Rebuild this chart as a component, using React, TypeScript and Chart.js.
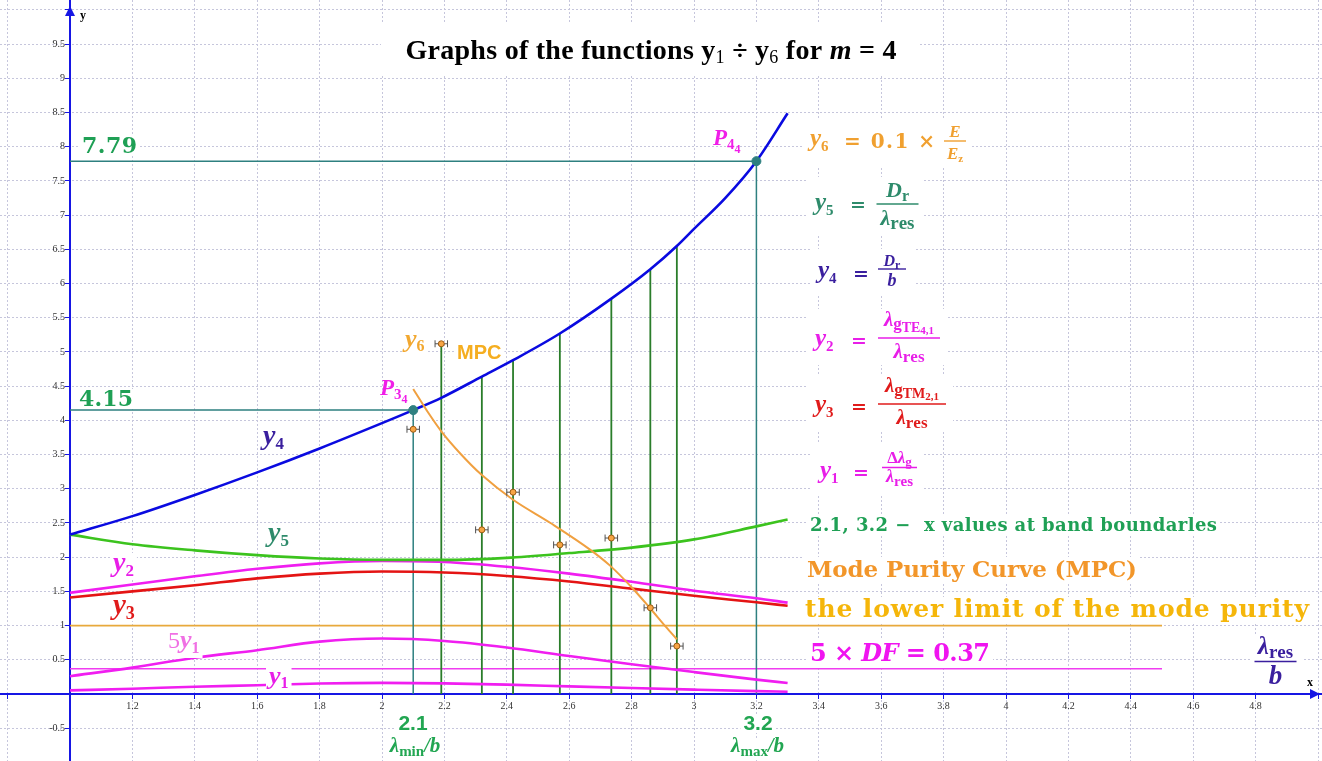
import React, { useEffect, useRef } from 'react';
import { Chart, registerables } from 'chart.js';

Chart.register(...registerables);

// ---------- axes ----------
const X_MIN = 0.7756;
const X_MAX = 5.0128;
const Y_MIN = -0.98;
const Y_MAX = 10.146;
const xTickValues = [0.8, 1.0, 1.2, 1.4, 1.6, 1.8, 2.0, 2.2, 2.4, 2.6, 2.8, 3.0, 3.2, 3.4, 3.6, 3.8, 4.0, 4.2, 4.4, 4.6, 4.8, 5.0];
const yTickValues = [-0.5, 0, 0.5, 1, 1.5, 2, 2.5, 3, 3.5, 4, 4.5, 5, 5.5, 6, 6.5, 7, 7.5, 8, 8.5, 9, 9.5, 10];
const xHiddenLabels = [0.8, 1.0, 5.0];
const yHiddenLabels = [0, 10];

// ---------- y4 = Dr / b ----------
const y4X = [1.0, 1.2, 1.4, 1.6, 1.8, 2.0, 2.1, 2.19, 2.32, 2.42, 2.57, 2.735, 2.86, 2.945, 3.0, 3.1, 3.2, 3.3];
const y4Y = [2.33, 2.6, 2.91, 3.24, 3.59, 3.96, 4.15, 4.33, 4.64, 4.88, 5.27, 5.78, 6.21, 6.55, 6.8, 7.25, 7.79, 8.49];

// ---------- y5, y2, y3, 5y1, y1 ----------
const curveX = [1.0, 1.2, 1.4, 1.6, 1.8, 2.0, 2.2, 2.4, 2.6, 2.8, 3.0, 3.2, 3.3];
const y5Y = [2.33, 2.19, 2.1, 2.03, 1.98, 1.96, 1.96, 1.99, 2.06, 2.14, 2.26, 2.45, 2.55];
const y2Y = [1.48, 1.6, 1.72, 1.83, 1.91, 1.945, 1.93, 1.86, 1.76, 1.64, 1.51, 1.4, 1.335];
const y3Y = [1.41, 1.5, 1.59, 1.69, 1.76, 1.79, 1.775, 1.725, 1.645, 1.54, 1.435, 1.34, 1.29];
const y1Times5Y = [0.26, 0.385, 0.53, 0.64, 0.765, 0.81, 0.775, 0.68, 0.555, 0.435, 0.32, 0.21, 0.16];
const y1Y = [0.052, 0.077, 0.106, 0.128, 0.153, 0.162, 0.155, 0.136, 0.111, 0.087, 0.064, 0.042, 0.032];

// ---------- Mode Purity Curve (y6) ----------
const mpcX = [2.1, 2.15, 2.19, 2.25, 2.32, 2.42, 2.54, 2.67, 2.73, 2.8, 2.86, 2.91, 2.945];
const mpcY = [4.46, 4.1, 3.84, 3.52, 3.2, 2.84, 2.5, 2.1, 1.88, 1.56, 1.25, 0.98, 0.8];
const mpcPointX = [2.1, 2.19, 2.32, 2.42, 2.57, 2.735, 2.86, 2.945];
const mpcPointY = [3.87, 5.12, 2.4, 2.95, 2.18, 2.28, 1.26, 0.7];
const mpcPointErr = [0.02, 0.02, 0.02, 0.02, 0.02, 0.02, 0.02, 0.02];

// ---------- vertical band lines ----------
const bandX = [2.19, 2.32, 2.42, 2.57, 2.735, 2.86, 2.945];
const bandTop = [5.12, 4.64, 4.88, 5.27, 5.78, 6.21, 6.55];

// ---------- band boundaries P34, P44 ----------
const boundaryX = [2.1, 3.2];
const boundaryY = [4.15, 7.79];

// ---------- horizontal levels ----------
const purityLimit = 1;
const dfLevel = 0.37;
const levelLineX = [1, 4.5];

// ---------- colours ----------
const AXIS = '#1616E4';
const GRID = '#C6C6DC';
const TEAL = '#2E8080';
const BAND = '#2A7D2A';
const C_Y4 = '#3A1F9E';
const C_Y5 = '#2E8B6B';
const C_MAG = '#E81EE8';
const C_RED = '#E01B1B';
const C_Y6 = '#F0A030';
const C_GREEN = '#1FA055';

// ---------- fonts ----------
const LS = '"Liberation Serif", "Times New Roman", serif';
const DV = '"DejaVu Serif", Georgia, serif';
const AR = '"Liberation Sans", Arial, sans-serif';
const fBI = (s: number) => `italic bold ${s}px ${LS}`;
const fB = (s: number) => `bold ${s}px ${LS}`;
const fR = (s: number) => `${s}px ${LS}`;
const fDV = (s: number) => `bold ${s}px ${DV}`;
const fDVI = (s: number) => `italic bold ${s}px ${DV}`;
const fAR = (s: number) => `bold ${s}px ${AR}`;

type Piece = { t: string; f: string; dy?: number };
type SeqOpt = { target?: number; align?: 'left' | 'center' | 'right'; bg?: [number, number]; pad?: number };

function drawSeq(ctx: CanvasRenderingContext2D, x: number, y: number, ps: Piece[], color: string, opt: SeqOpt = {}) {
  const chars: { ch: string; f: string; dy: number; w: number }[] = [];
  for (const p of ps) {
    ctx.font = p.f;
    for (const ch of Array.from(p.t)) chars.push({ ch, f: p.f, dy: p.dy || 0, w: ctx.measureText(ch).width });
  }
  const nat = chars.reduce((a, c) => a + c.w, 0);
  const ls = opt.target && chars.length > 1 ? (opt.target - nat) / (chars.length - 1) : 0;
  const total = nat + ls * (chars.length - 1);
  let cx = opt.align === 'center' ? x - total / 2 : opt.align === 'right' ? x - total : x;
  if (opt.bg) {
    const pad = opt.pad ?? 3;
    ctx.fillStyle = '#ffffff';
    ctx.fillRect(cx - pad, y - opt.bg[0], total + 2 * pad, opt.bg[0] + opt.bg[1]);
  }
  ctx.fillStyle = color;
  ctx.textAlign = 'left';
  ctx.textBaseline = 'alphabetic';
  for (const c of chars) {
    ctx.font = c.f;
    ctx.fillText(c.ch, cx, y + c.dy);
    cx += c.w + ls;
  }
  return total;
}

function drawFrac(ctx: CanvasRenderingContext2D, cx: number, barY: number, half: number, num: Piece[], numGap: number, den: Piece[], denGap: number, color: string) {
  drawSeq(ctx, cx, barY - numGap, num, color, { align: 'center' });
  drawSeq(ctx, cx, barY + denGap, den, color, { align: 'center' });
  ctx.strokeStyle = color;
  ctx.lineWidth = 1.4;
  ctx.beginPath();
  ctx.moveTo(cx - half, barY);
  ctx.lineTo(cx + half, barY);
  ctx.stroke();
}

function whiteBox(ctx: CanvasRenderingContext2D, x: number, y: number, w: number, h: number) {
  ctx.fillStyle = '#ffffff';
  ctx.fillRect(x, y, w, h);
}

const errorBarPlugin = {
  id: 'mpcErrorBars',
  beforeDatasetDraw(chart: any, args: any) {
    if (args.index !== 0) return;
    const { ctx, scales } = chart;
    ctx.save();
    ctx.strokeStyle = '#505050';
    ctx.lineWidth = 1;
    mpcPointX.forEach((x, i) => {
      const py = scales.y.getPixelForValue(mpcPointY[i]);
      const x1 = scales.x.getPixelForValue(x - mpcPointErr[i]);
      const x2 = scales.x.getPixelForValue(x + mpcPointErr[i]);
      ctx.beginPath();
      ctx.moveTo(x1, py);
      ctx.lineTo(x2, py);
      ctx.moveTo(x1, py - 3.5);
      ctx.lineTo(x1, py + 3.5);
      ctx.moveTo(x2, py - 3.5);
      ctx.lineTo(x2, py + 3.5);
      ctx.stroke();
    });
    ctx.restore();
  },
};

const textPlugin = {
  id: 'annotationText',
  afterDatasetsDraw(chart: any) {
    const ctx: CanvasRenderingContext2D = chart.ctx;
    ctx.save();

    // title
    whiteBox(ctx, 381, 24, 538, 50);
    drawSeq(ctx, 651, 59, [
      { t: 'Graphs of the functions ', f: fB(28) },
      { t: 'y', f: fB(28) }, { t: '1', f: fR(18), dy: 4 },
      { t: ' ÷ ', f: fB(28) },
      { t: 'y', f: fB(28) }, { t: '6', f: fR(18), dy: 4 },
      { t: ' for ', f: fB(28) }, { t: 'm', f: fBI(28) }, { t: ' = 4', f: fB(28) },
    ], '#000000', { align: 'center', target: 491 });

    // y6 = 0.1 x E/Ez
    whiteBox(ctx, 804, 119, 168, 48);
    drawSeq(ctx, 810, 146, [{ t: 'y', f: fBI(25) }, { t: '6', f: fB(15), dy: 5 }], C_Y6);
    drawSeq(ctx, 844, 148, [{ t: '= 0.1 ×', f: fDV(20) }], C_Y6, { target: 91 });
    drawFrac(ctx, 955, 141, 11, [{ t: 'E', f: fBI(17) }], 4, [{ t: 'E', f: fBI(17) }, { t: 'z', f: fB(11), dy: 3 }], 18, C_Y6);

    // y5 = Dr / lambda_res
    whiteBox(ctx, 806, 177, 118, 57);
    drawSeq(ctx, 815, 210, [{ t: 'y', f: fBI(25) }, { t: '5', f: fB(15), dy: 5 }], C_Y5);
    drawSeq(ctx, 850, 211, [{ t: '=', f: fDV(19) }], C_Y5);
    drawFrac(ctx, 897.5, 204, 21, [{ t: 'D', f: fBI(22) }, { t: 'r', f: fB(16), dy: 4 }], 7,
      [{ t: 'λ', f: fBI(22) }, { t: 'res', f: fB(19), dy: 4 }], 21, C_Y5);

    // y4 = Dr / b
    whiteBox(ctx, 810, 249, 104, 45);
    drawSeq(ctx, 818, 278, [{ t: 'y', f: fBI(25) }, { t: '4', f: fB(15), dy: 5 }], C_Y4);
    drawSeq(ctx, 853, 280, [{ t: '=', f: fDV(19) }], C_Y4);
    drawFrac(ctx, 892, 269, 14, [{ t: 'D', f: fBI(16) }, { t: 'r', f: fB(12), dy: 3 }], 3, [{ t: 'b', f: fBI(18) }], 17, C_Y4);

    // y2
    whiteBox(ctx, 808, 309, 140, 56);
    drawSeq(ctx, 815, 346, [{ t: 'y', f: fBI(25) }, { t: '2', f: fB(15), dy: 5 }], C_MAG);
    drawSeq(ctx, 851, 347, [{ t: '=', f: fDV(19) }], C_MAG);
    drawFrac(ctx, 909, 338, 31,
      [{ t: 'λ', f: fBI(21) }, { t: 'g', f: fB(17), dy: 3 }, { t: 'TE', f: fB(14), dy: 6 }, { t: '4,1', f: fB(11), dy: 8 }], 12,
      [{ t: 'λ', f: fBI(21) }, { t: 'res', f: fB(17), dy: 4 }], 20, C_MAG);

    // y3
    whiteBox(ctx, 808, 375, 145, 57);
    drawSeq(ctx, 815, 412, [{ t: 'y', f: fBI(25) }, { t: '3', f: fB(15), dy: 5 }], C_RED);
    drawSeq(ctx, 851, 413, [{ t: '=', f: fDV(19) }], C_RED);
    drawFrac(ctx, 912, 404, 34,
      [{ t: 'λ', f: fBI(21) }, { t: 'g', f: fB(17), dy: 3 }, { t: 'TM', f: fB(14), dy: 6 }, { t: '2,1', f: fB(11), dy: 8 }], 12,
      [{ t: 'λ', f: fBI(21) }, { t: 'res', f: fB(17), dy: 4 }], 20, C_RED);

    // y1
    whiteBox(ctx, 812, 444, 110, 52);
    drawSeq(ctx, 820, 478, [{ t: 'y', f: fBI(25) }, { t: '1', f: fB(15), dy: 5 }], C_MAG);
    drawSeq(ctx, 853, 479, [{ t: '=', f: fDV(19) }], C_MAG);
    drawFrac(ctx, 899.5, 467.5, 17.5,
      [{ t: 'Δ', f: fB(17) }, { t: 'λ', f: fBI(17) }, { t: 'g', f: fB(13), dy: 3 }], 5,
      [{ t: 'λ', f: fBI(18) }, { t: 'res', f: fB(15), dy: 4 }], 14, C_MAG);

    // long captions
    drawSeq(ctx, 810, 531, [{ t: '2.1, 3.2 −  x values at band boundarles', f: fDV(18) }], C_GREEN, { target: 407, bg: [17, 5] });
    drawSeq(ctx, 807, 577, [{ t: 'Mode Purity Curve (MPC)', f: fDV(23) }], '#F2962A', { target: 330, bg: [20, 6] });
    drawSeq(ctx, 805, 617, [{ t: 'the lower limit of the mode purity', f: fDV(25) }], '#F5B60A', { target: 504, bg: [20, 5] });
    drawSeq(ctx, 810, 661, [
      { t: '5 × ', f: fDV(24) }, { t: 'DF', f: fDVI(24) }, { t: ' = 0.37', f: fDV(24) },
    ], '#F014F0', { target: 180, bg: [22, 5] });

    // lambda_res / b
    whiteBox(ctx, 1250, 636, 52, 54);
    drawFrac(ctx, 1275.5, 661.5, 21, [{ t: 'λ', f: fBI(25) }, { t: 'res', f: fB(19), dy: 4 }], 8,
      [{ t: 'b', f: fBI(27) }], 22, C_Y4);

    // axis letters
    drawSeq(ctx, 1307, 686, [{ t: 'x', f: fB(12) }], '#000000');
    drawSeq(ctx, 80, 19, [{ t: 'y', f: fB(12) }], '#000000');

    // curve labels
    drawSeq(ctx, 263, 444, [{ t: 'y', f: fBI(28) }, { t: '4', f: fB(17), dy: 5 }], C_Y4, { bg: [19, 9] });
    drawSeq(ctx, 268, 541, [{ t: 'y', f: fBI(28) }, { t: '5', f: fB(17), dy: 5 }], C_Y5, { bg: [18, 8] });
    drawSeq(ctx, 113, 571, [{ t: 'y', f: fBI(28) }, { t: '2', f: fB(17), dy: 5 }], C_MAG, { bg: [18, 8] });
    drawSeq(ctx, 113, 614, [{ t: 'y', f: fBI(29) }, { t: '3', f: fB(18), dy: 5 }], C_RED, { bg: [18, 7] });
    drawSeq(ctx, 168, 648, [{ t: '5', f: fR(24) }, { t: 'y', f: fBI(26) }, { t: '1', f: fB(16), dy: 5 }], '#F070E4', { bg: [19, 10] });
    drawSeq(ctx, 269, 684, [{ t: 'y', f: fBI(26) }, { t: '1', f: fB(16), dy: 4 }], C_MAG, { bg: [16, 7] });
    drawSeq(ctx, 405, 347, [{ t: 'y', f: fBI(26) }, { t: '6', f: fB(16), dy: 4 }], '#F2A830', { bg: [15, 7] });
    drawSeq(ctx, 457, 359, [{ t: 'MPC', f: fAR(20) }], '#F5AE20', { bg: [16, 3] });

    // points P34, P44
    drawSeq(ctx, 380, 395, [{ t: 'P', f: fBI(23) }, { t: '3', f: fB(15), dy: 4 }, { t: '4', f: fB(12), dy: 8 }], '#F01EE8');
    drawSeq(ctx, 713, 145, [{ t: 'P', f: fBI(23) }, { t: '4', f: fB(15), dy: 4 }, { t: '4', f: fB(12), dy: 8 }], '#F01EE8');

    // boundary value labels
    drawSeq(ctx, 82, 153, [{ t: '7.79', f: fDV(22) }], C_GREEN, { target: 55, bg: [17, 3] });
    drawSeq(ctx, 79, 406, [{ t: '4.15', f: fDV(22) }], C_GREEN, { target: 54, bg: [17, 3] });
    drawSeq(ctx, 413, 730, [{ t: '2.1', f: fAR(21) }], '#22A652', { align: 'center', bg: [16, 3] });
    drawSeq(ctx, 415, 752, [{ t: 'λ', f: fBI(21) }, { t: 'min', f: fB(15), dy: 4 }, { t: '/', f: fBI(20) }, { t: 'b', f: fBI(21) }], '#22A652', { align: 'center', bg: [14, 7] });
    drawSeq(ctx, 758, 730, [{ t: '3.2', f: fAR(21) }], '#22A652', { align: 'center', bg: [16, 3] });
    drawSeq(ctx, 757.5, 752, [{ t: 'λ', f: fBI(21) }, { t: 'max', f: fB(15), dy: 4 }, { t: '/', f: fBI(20) }, { t: 'b', f: fBI(21) }], '#22A652', { align: 'center', bg: [14, 7] });

    ctx.restore();
  },
  afterDraw(chart: any) {
    const ctx: CanvasRenderingContext2D = chart.ctx;
    const { scales, chartArea } = chart;
    const ax = scales.x.getPixelForValue(1);
    const ay = scales.y.getPixelForValue(0);
    ctx.save();
    ctx.fillStyle = AXIS;
    ctx.beginPath();
    ctx.moveTo(chartArea.right - 2, ay);
    ctx.lineTo(chartArea.right - 12, ay - 5);
    ctx.lineTo(chartArea.right - 12, ay + 5);
    ctx.closePath();
    ctx.fill();
    ctx.beginPath();
    ctx.moveTo(ax, chartArea.top + 6);
    ctx.lineTo(ax - 5, chartArea.top + 16);
    ctx.lineTo(ax + 5, chartArea.top + 16);
    ctx.closePath();
    ctx.fill();
    ctx.restore();
  },
};

const pts = (xs: number[], ys: number[]) => xs.map((x, i) => ({ x, y: ys[i] }));

const curve = (data: any[], color: string, width: number, order: number) => ({
  data,
  borderColor: color,
  backgroundColor: color,
  borderWidth: width,
  showLine: true,
  pointRadius: 0,
  pointHoverRadius: 0,
  pointHitRadius: 0,
  cubicInterpolationMode: 'monotone',
  order,
});

const straight = (data: any[], color: string, width: number, order: number) => ({
  ...curve(data, color, width, order),
  cubicInterpolationMode: 'default',
  tension: 0,
});

const fmt = (v: number) => String(Math.round(v * 10) / 10);
const isIn = (list: number[], v: number) => list.some((h) => Math.abs(h - v) < 1e-6);
const zeroPad = (s: any) => {
  s.paddingLeft = 0;
  s.paddingRight = 0;
  s.paddingTop = 0;
  s.paddingBottom = 0;
};

export default function App() {
  const ref = useRef<HTMLCanvasElement>(null);

  useEffect(() => {
    document.body.style.margin = '0';
    const canvas = ref.current;
    if (!canvas) return;

    const datasets: any[] = [
      {
        data: pts(mpcPointX, mpcPointY),
        showLine: false,
        pointRadius: 3,
        pointStyle: 'circle',
        pointBackgroundColor: '#F7A545',
        pointBorderColor: '#9A5A14',
        pointBorderWidth: 1,
        order: 0,
      },
      {
        data: pts(boundaryX, boundaryY),
        showLine: false,
        pointRadius: 4.5,
        pointBackgroundColor: TEAL,
        pointBorderColor: TEAL,
        order: 1,
      },
      curve(pts(mpcX, mpcY), '#F0A040', 2, 2),
      curve(pts(y4X, y4Y), '#0A0AE0', 2.6, 3),
      curve(pts(curveX, y5Y), '#3CC31E', 2.6, 4),
      curve(pts(curveX, y2Y), '#F01EF0', 2.6, 5),
      curve(pts(curveX, y3Y), '#E41414', 2.6, 6),
      curve(pts(curveX, y1Times5Y), '#F01EF0', 2.6, 7),
      curve(pts(curveX, y1Y), '#F01EF0', 2.6, 8),
      ...bandX.map((x, i) => straight([{ x, y: 0 }, { x, y: bandTop[i] }], BAND, 1.8, 9)),
      ...boundaryX.map((x, i) =>
        straight([{ x: 1, y: boundaryY[i] }, { x, y: boundaryY[i] }, { x, y: 0 }], TEAL, 1.5, 10)
      ),
      straight(levelLineX.map((x) => ({ x, y: purityLimit })), '#E8A93C', 1.8, 11),
      straight(levelLineX.map((x) => ({ x, y: dfLevel })), '#F03CF0', 1.5, 12),
    ];

    const chart = new Chart(canvas, {
      type: 'scatter',
      data: { datasets },
      options: {
        responsive: false,
        animation: false,
        devicePixelRatio: 1,
        events: [],
        layout: { padding: 0, autoPadding: false },
        plugins: {
          legend: { display: false },
          tooltip: { enabled: false },
          title: { display: false },
        },
        scales: {
          x: {
            type: 'linear',
            axis: 'x',
            min: X_MIN,
            max: X_MAX,
            position: { y: 0 },
            afterBuildTicks: (s: any) => {
              s.ticks = xTickValues.map((value) => ({ value }));
            },
            afterFit: zeroPad,
            grid: { color: GRID, lineWidth: 1, tickColor: AXIS, tickLength: 4, tickWidth: 1 },
            border: { color: AXIS, width: 2, dash: [2, 2] },
            ticks: {
              autoSkip: false,
              maxRotation: 0,
              padding: 2,
              color: '#333333',
              font: { family: LS, size: 10 },
              callback: (v: any) => (isIn(xHiddenLabels, Number(v)) ? '' : fmt(Number(v))),
            },
          },
          y: {
            type: 'linear',
            axis: 'y',
            min: Y_MIN,
            max: Y_MAX,
            position: { x: 1 },
            afterBuildTicks: (s: any) => {
              s.ticks = yTickValues.map((value) => ({ value }));
            },
            afterFit: zeroPad,
            grid: { color: GRID, lineWidth: 1, tickColor: AXIS, tickLength: 4, tickWidth: 1 },
            border: { color: AXIS, width: 2, dash: [2, 2] },
            ticks: {
              autoSkip: false,
              padding: 2,
              color: '#333333',
              font: { family: LS, size: 10 },
              callback: (v: any) => (isIn(yHiddenLabels, Number(v)) ? '' : fmt(Number(v)) + '\u2002'),
            },
          },
        },
      } as any,
      plugins: [errorBarPlugin, textPlugin],
    });

    return () => chart.destroy();
  }, []);

  return (
    <div style={{ width: 1322, height: 761, background: '#ffffff' }}>
      <canvas ref={ref} width={1322} height={761} style={{ display: 'block', width: 1322, height: 761 }} />
    </div>
  );
}
